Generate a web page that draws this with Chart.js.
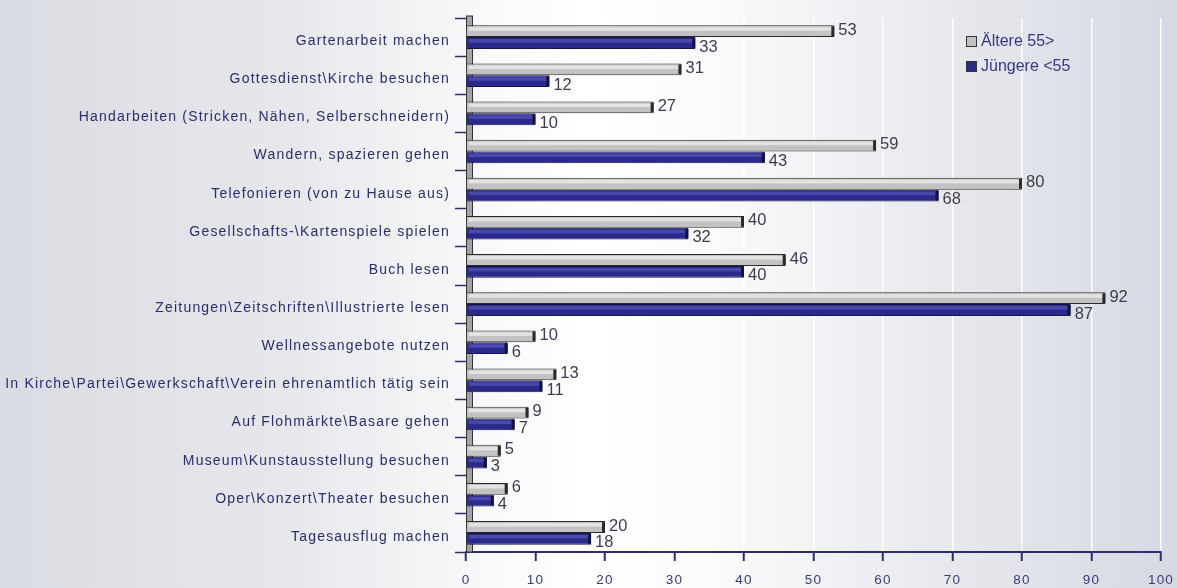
<!DOCTYPE html>
<html>
<head>
<meta charset="utf-8">
<script src="https://cdn.jsdelivr.net/npm/chart.js@4/dist/chart.umd.min.js"></script>
<style>
  body { margin: 0; }
  #wrap {
    width: 1177px; height: 588px; position: relative;
    background: linear-gradient(90deg, #dadce3 0%, #e6e8ec 25%, #f7f8f9 40%, #ffffff 50%, #fbfbfc 60%, #e9ebef 78%, #d6d9e2 100%);
  }
</style>
</head>
<body>
<div id="wrap"><canvas id="chart"></canvas></div>
<script>
const categories = [
    "Gartenarbeit machen",
    "Gottesdienst\\Kirche besuchen",
    "Handarbeiten (Stricken, Nähen, Selberschneidern)",
    "Wandern, spazieren gehen",
    "Telefonieren (von zu Hause aus)",
    "Gesellschafts-\\Kartenspiele spielen",
    "Buch lesen",
    "Zeitungen\\Zeitschriften\\Illustrierte lesen",
    "Wellnessangebote nutzen",
    "In Kirche\\Partei\\Gewerkschaft\\Verein ehrenamtlich tätig sein",
    "Auf Flohmärkte\\Basare gehen",
    "Museum\\Kunstausstellung besuchen",
    "Oper\\Konzert\\Theater besuchen",
    "Tagesausflug machen"
];
const aeltere = [53, 31, 27, 59, 80, 40, 46, 92, 10, 13, 9, 5, 6, 20];
const juengere = [33, 12, 10, 43, 68, 32, 40, 87, 6, 11, 7, 3, 4, 18];
const xTicks = [0, 10, 20, 30, 40, 50, 60, 70, 80, 90, 100];

const navy = "#2c2c6e";

// grey side wall at the value axis origin
const wallPlugin = {
    id: "wall",
    beforeDatasetsDraw(chart) {
        const a = chart.chartArea, c = chart.ctx;
        c.save();
        c.fillStyle = "#a4a4a4";
        c.fillRect(a.left, a.top - 2, 6, a.bottom - a.top + 2);
        c.strokeStyle = "#333";
        c.lineWidth = 1;
        c.strokeRect(a.left + 0.5, a.top - 2, 6, a.bottom - a.top + 2);
        c.restore();
    }
};

// highlight stripes, end caps and value labels
const barPlugin = {
    id: "barDeco",
    beforeDraw(chart) { chart.ctx.letterSpacing = "1.2px"; },
    beforeDatasetsDraw(chart) { chart.ctx.letterSpacing = "0px"; },
    afterDatasetsDraw(chart) {
        const c = chart.ctx;
        c.save();
        chart.data.datasets.forEach((ds, di) => {
            const meta = chart.getDatasetMeta(di);
            meta.data.forEach((el, i) => {
                const h = el.height, top = el.y - h / 2, left = el.base;
                c.fillStyle = di === 0 ? "rgba(255,255,255,0.55)" : "rgba(110,110,210,0.45)";
                c.fillRect(left + 2, top + 2, el.x - left - 5, h * 0.3);
                c.fillStyle = di === 0 ? "#2a2a2a" : "#12123e";
                c.fillRect(el.x - 3, top + 1, 3, h - 2);
                c.fillStyle = "#3c3c50";
                c.font = "16.5px 'Liberation Sans', Arial, sans-serif";
                c.textBaseline = "middle";
                c.textAlign = "left";
                c.fillText(ds.data[i], el.x + 4, el.y + (di === 0 ? -1 : 4));
            });
        });
        c.restore();
    },
    afterDraw(chart) {
        const c = chart.ctx;
        c.save();
        c.letterSpacing = "0px";
        c.font = "16px 'Liberation Sans', Arial, sans-serif";
        c.textBaseline = "middle";
        chart.data.datasets.forEach((ds, di) => {
            const y = 42 + di * 25;
            c.fillStyle = ds.backgroundColor;
            c.fillRect(966, y - 6, 11, 11);
            c.strokeStyle = "#333";
            c.lineWidth = 1;
            c.strokeRect(966.5, y - 5.5, 10, 10);
            c.fillStyle = "#36368a";
            c.fillText(ds.label, 981, y);
        });
        c.restore();
    }
};

new Chart(document.getElementById("chart"), {
    type: "bar",
    data: {
        labels: categories,
        datasets: [
            {
                label: "Ältere 55>",
                data: aeltere,
                backgroundColor: "#c2c2c2",
                borderColor: "#2a2a2a",
                borderWidth: 1,
            },
            {
                label: "Jüngere <55",
                data: juengere,
                backgroundColor: "#2a2a8c",
                borderColor: "#14144a",
                borderWidth: 1,
            },
        ],
    },
    plugins: [wallPlugin, barPlugin],
    options: {
        indexAxis: "y",
        responsive: true,
        maintainAspectRatio: false,
        animation: false,
        layout: { padding: { top: 18, right: 16, left: 0, bottom: 0 } },
        datasets: { bar: { categoryPercentage: 0.62, barPercentage: 1 } },
        plugins: { legend: { display: false }, tooltip: { enabled: false } },
        scales: {
            x: {
                min: 0,
                max: 100,
                afterBuildTicks: (s) => { s.ticks = xTicks.map((v) => ({ value: v })); },
                afterFit: (s) => { s.height = 36; s.paddingLeft = 0; s.paddingRight = 0; },
                grid: { color: "rgba(255,255,255,0.95)", lineWidth: 1.5, tickLength: 9, tickColor: navy, tickWidth: 2 },
                border: { color: navy, width: 2 },
                ticks: { color: "#3a3a7a", padding: 11, font: { family: "'Liberation Sans', Arial, sans-serif", size: 13.5 } },
            },
            y: {
                afterFit: (s) => { s.width = 466; },
                grid: { drawOnChartArea: false, tickLength: 11, tickColor: navy, tickWidth: 1.5, offset: true },
                border: { display: false },
                ticks: { color: navy, padding: 5, labelOffset: 4, autoSkip: false, font: { family: "'Liberation Sans', Arial, sans-serif", size: 14 } },
            },
        },
    },
});
</script>
</body>
</html>
